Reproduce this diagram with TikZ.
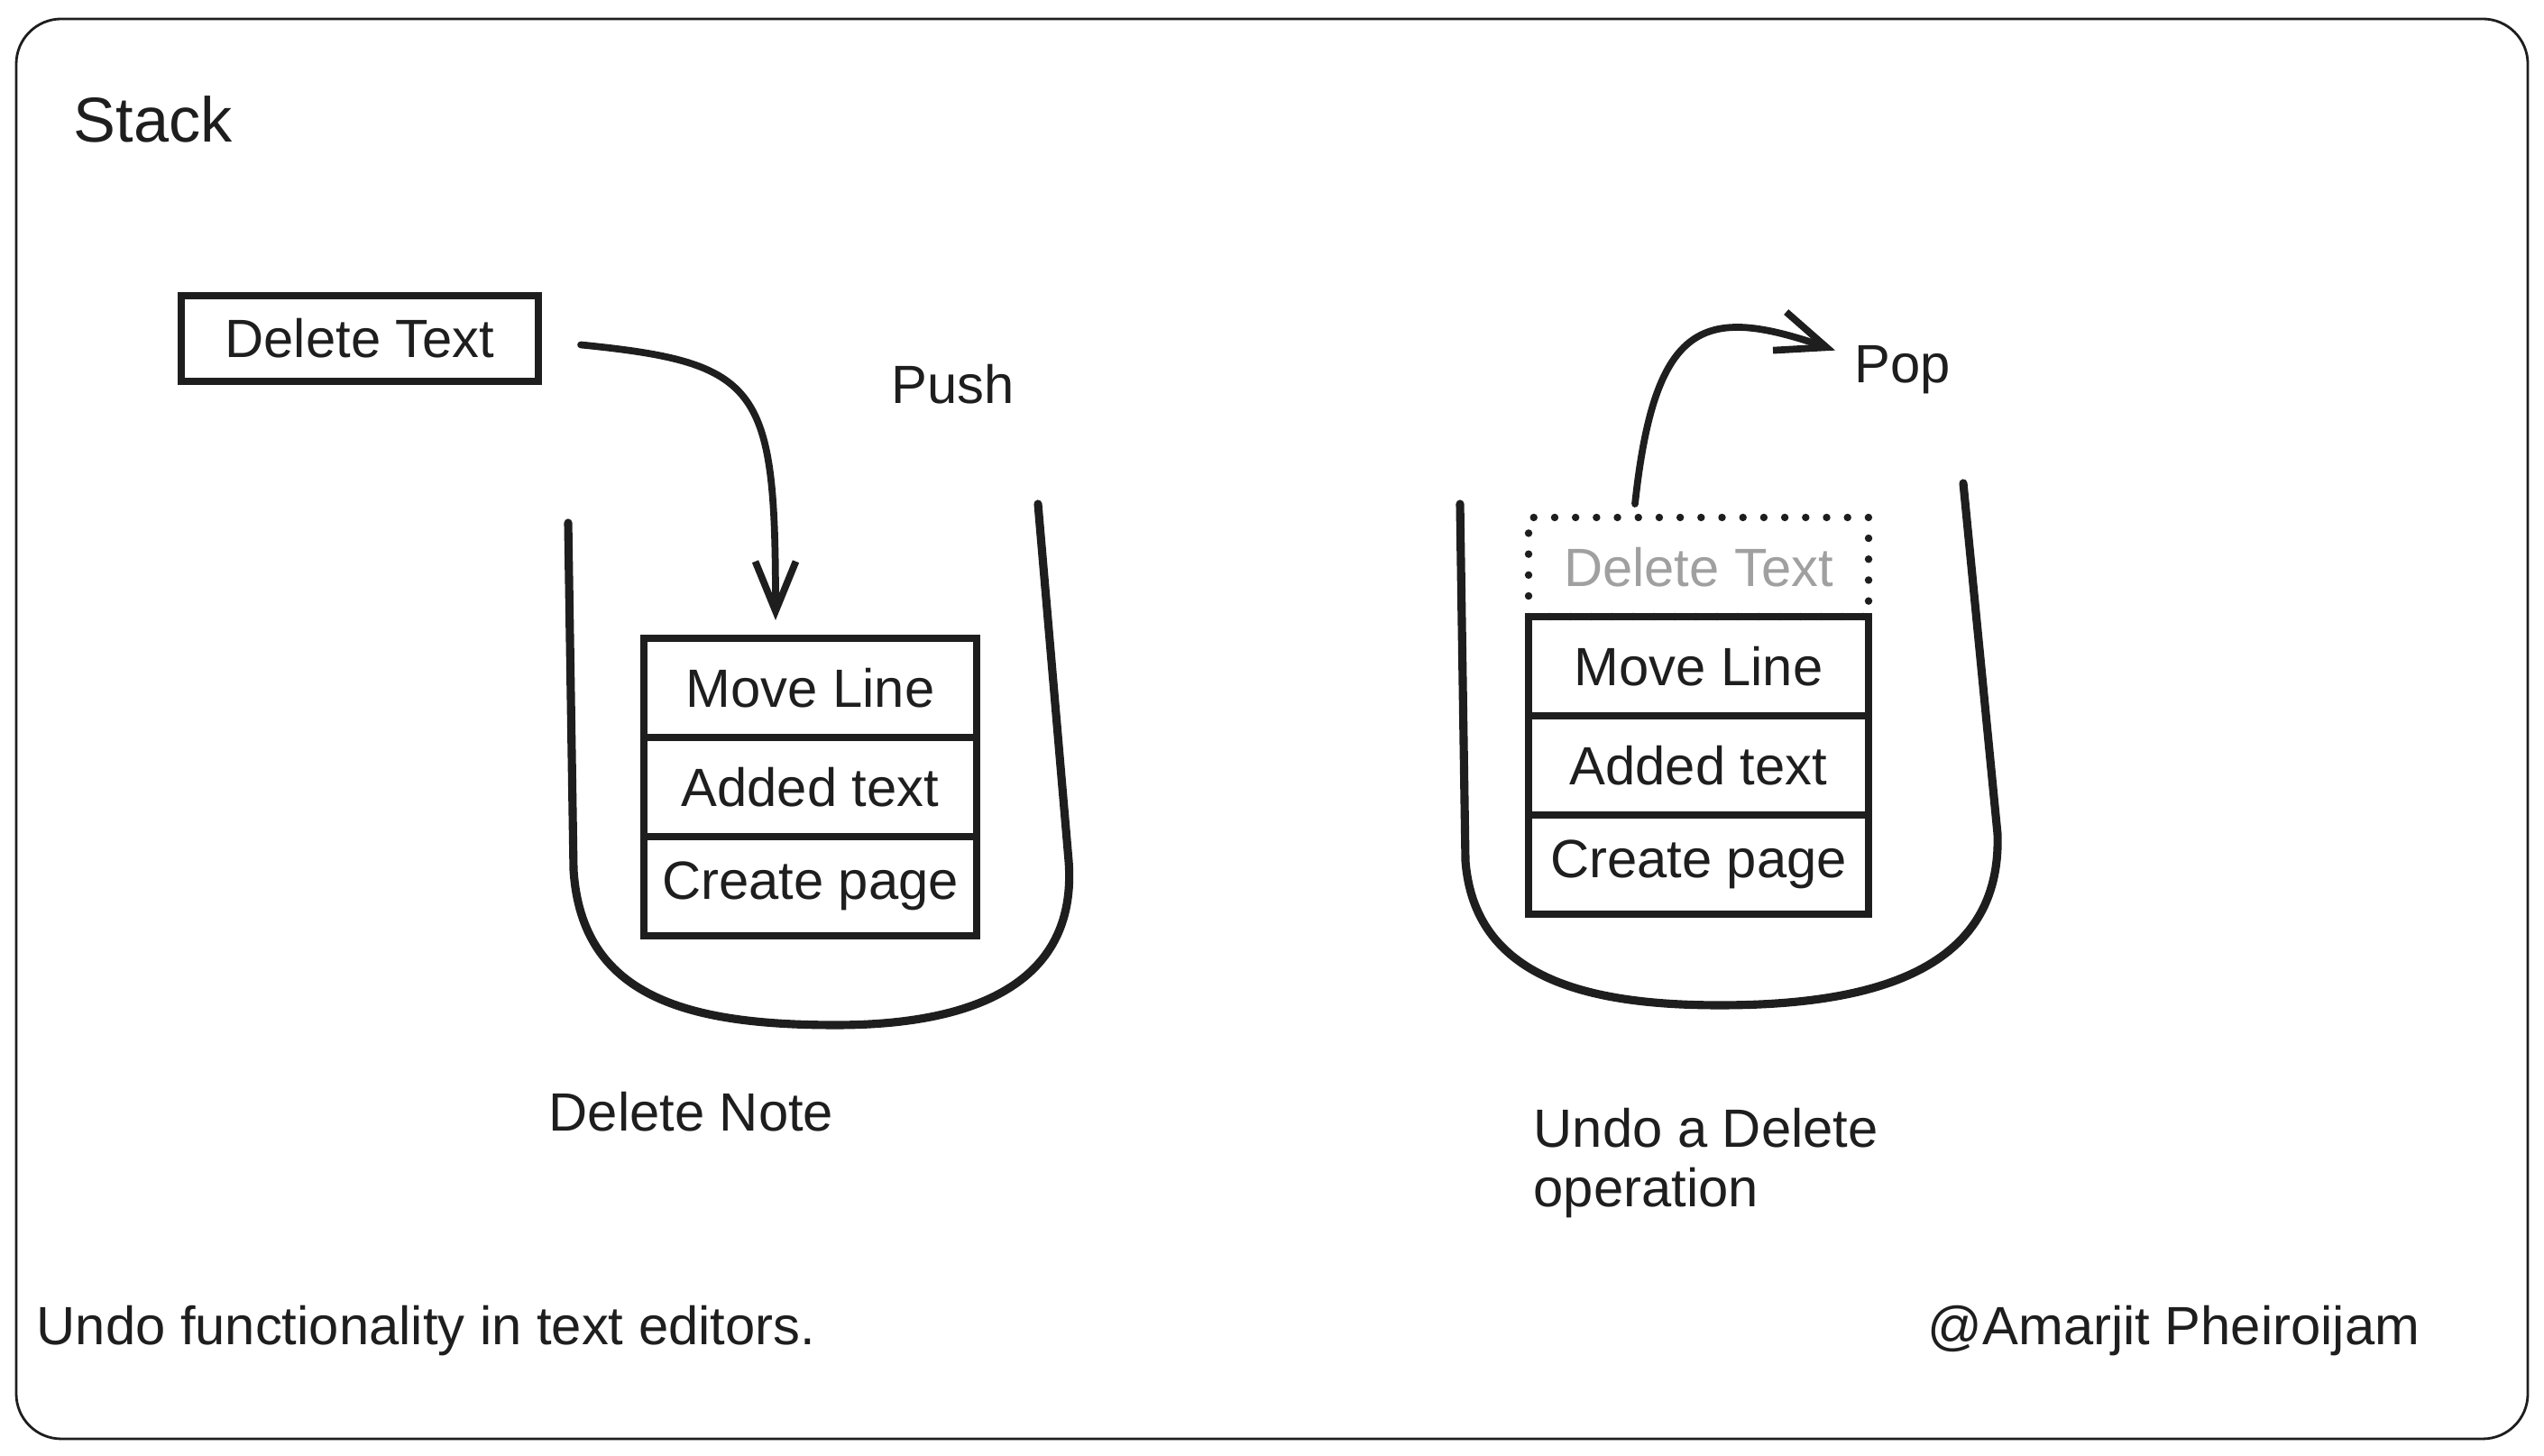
\documentclass[tikz,border=0pt]{standalone}
\usepackage{fontspec}
\setmainfont{Liberation Sans}
\usepackage{tikz}
\usetikzlibrary{arrows.meta, positioning}
\definecolor{inkgray}{HTML}{1E1E1E}
\definecolor{fadedgray}{HTML}{A0A0A0}

\begin{document}
\begin{tikzpicture}[
    font=\fontsize{17}{18.5}\selectfont,
    box/.style={draw=inkgray, line width=2.3pt, minimum width=3.69cm, minimum height=1.1cm, inner sep=0pt, outer sep=0pt, align=center, text=inkgray},
    ghost/.style={box, dash pattern=on 0pt off 6.6pt, line cap=round, line width=2.4pt, text=fadedgray},
    bucket/.style={draw=inkgray, line width=2.6pt, line cap=round, line join=round},
    arrow/.style={-{Straight Barb[length=5.5mm, width=4.5mm]}, line width=2.2pt, draw=inkgray, line cap=round},
    txt/.style={anchor=base west, inner sep=0pt, text=inkgray}
]
    \useasboundingbox (0,0) rectangle (28.21,16.15);
    \draw[inkgray, line width=0.8pt, rounded corners=0.5cm] (0.18,0.19) rectangle (28.03,15.94);

    \node[txt, font=\fontsize{20}{22}\selectfont] (title) at (0.81,14.57) {Stack};

    \node[box, minimum width=3.96cm, minimum height=0.95cm] (del) at (3.99,12.395) {Delete Text};
    \node[txt] (push) at (9.88,11.67) {Push};

    \node[box, anchor=north] (mvl) at (8.985,9.07) {Move Line};
    \node[box, below=0pt of mvl] (add) {Added text};
    \node[box, below=0pt of add] (crt) {Create page};
    \node[txt] (delnote) at (6.08,3.60) {Delete Note};

    \draw[bucket] (6.30,10.35) -- (6.36,6.5) .. controls (6.45,5.1) and (7.6,4.78) .. (9.27,4.78)
        .. controls (10.9,4.78) and (11.95,5.3) .. (11.85,6.6) -- (11.51,10.56);

    \draw[arrow] ([xshift=0.47cm,yshift=-0.07cm]del.east) .. controls +(2.0,-0.2) and +(0,2.6) .. ([xshift=-0.385cm,yshift=0.2cm]mvl.north);

    \node[ghost, minimum width=3.77cm, anchor=north] (gone) at (18.835,10.41) {Delete Text};
    \node[box, minimum width=3.77cm, below=0pt of gone] (mvlb) {Move Line};
    \node[box, minimum width=3.77cm, below=0pt of mvlb] (addb) {Added text};
    \node[box, minimum width=3.77cm, below=0pt of addb] (crtb) {Create page};
    \node[txt] (pop) at (20.56,11.90) {Pop};
    \node[txt, anchor=north west, align=left] (undo) at (17.00,3.86) {Undo a Delete\\operation};

    \draw[bucket] (16.19,10.56) -- (16.25,6.6) .. controls (16.35,5.3) and (17.6,5.0) .. (19.07,5.0)
        .. controls (20.8,5.0) and (22.2,5.4) .. (22.15,6.9) -- (21.77,10.79);

    \draw[arrow] ([xshift=-0.705cm,yshift=0.15cm]gone.north) .. controls +(0.22,2.05) and +(-1.45,0.5) .. ([xshift=-0.21cm,yshift=0.22cm]pop.west);

    \node[txt] (foot) at (0.40,1.23) {Undo functionality in text editors.};
    \node[txt] (sign) at (21.37,1.23) {@Amarjit Pheiroijam};
\end{tikzpicture}
\end{document}
